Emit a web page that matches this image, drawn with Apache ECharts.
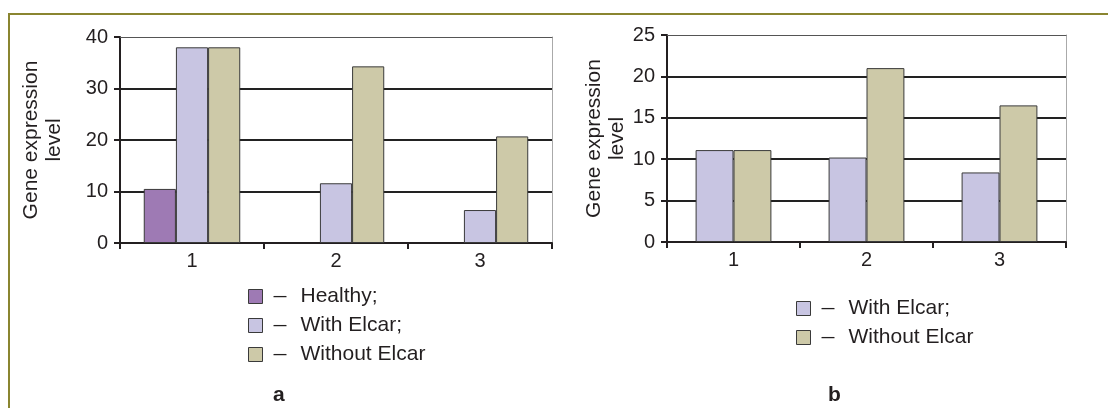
<!DOCTYPE html>
<html>
<head>
<meta charset="utf-8">
<script src="https://cdn.jsdelivr.net/npm/echarts@6/dist/echarts.min.js"></script>
<style>
html,body{margin:0;padding:0;background:#fff;}
#chart{width:1108px;height:408px;}
</style>
</head>
<body>
<div id="chart"></div>
<script>
// ---- data ----
const categories = ['1', '2', '3'];
const aHealthy = [10.5, null, null];
const aWithElcar = [38, 11.6, 6.4];
const aWithoutElcar = [38, 34.3, 20.7];
const bWithElcar = [11.1, 10.2, 8.4];
const bWithoutElcar = [11.1, 21.0, 16.5];
const axisTitle = 'Gene expression\nlevel';
const legendLabels = { aH: 'Healthy;', aW: 'With Elcar;', aWo: 'Without Elcar', bW: 'With Elcar;', bWo: 'Without Elcar' };
const panelLabels = ['a', 'b'];

// ---- styles ----
const FONT = '"Liberation Sans", Arial, sans-serif';
const TXT = '#231f20';
const C_H = '#9e7ab4', C_W = '#c8c5e2', C_WO = '#cdc9a8';
const BORDER = '#3a3a3a';

const chart = echarts.init(document.getElementById('chart'), null, { renderer: 'canvas' });

function xAxisMain(gi) {
  return {
    type: 'category', gridIndex: gi, data: categories, boundaryGap: true,
    axisLine: { lineStyle: { color: TXT, width: 2 } },
    axisTick: { show: true, length: 6, lineStyle: { color: TXT, width: 2 } },
    axisLabel: { color: TXT, fontSize: 20, fontFamily: FONT, margin: 8 },
    splitLine: { show: false }
  };
}
function xAxisTop(gi) {
  return {
    type: 'category', gridIndex: gi, data: categories, position: 'top',
    axisLine: { show: true, onZero: false, lineStyle: { color: '#555', width: 1 } },
    axisTick: { show: false }, axisLabel: { show: false }, splitLine: { show: false }
  };
}
function yAxisMain(gi, max, interval, gap) {
  return {
    type: 'value', gridIndex: gi, min: 0, max: max, interval: interval,
    name: axisTitle, nameLocation: 'middle', nameRotate: 90, nameGap: gap,
    nameTextStyle: { color: TXT, fontSize: 21, fontFamily: FONT, lineHeight: 23, align: 'center' },
    axisLine: { show: true, lineStyle: { color: TXT, width: 2 } },
    axisTick: { show: true, length: 6, lineStyle: { color: TXT, width: 2 } },
    axisLabel: { color: TXT, fontSize: 20, fontFamily: FONT, margin: 12 },
    splitLine: { show: true, showMaxLine: false, lineStyle: { color: '#222', width: 2 } }
  };
}
function yAxisRight(gi, max, interval) {
  return {
    type: 'value', gridIndex: gi, min: 0, max: max, interval: interval, position: 'right',
    axisLine: { show: true, onZero: false, lineStyle: { color: '#aaa', width: 1 } },
    axisTick: { show: false }, axisLabel: { show: false }, splitLine: { show: false }
  };
}
function bar(name, data, color, xi, yi, catGap) {
  return {
    type: 'bar', name: name, data: data, xAxisIndex: xi, yAxisIndex: yi,
    barGap: '0%', barCategoryGap: catGap,
    itemStyle: { color: color, borderColor: BORDER, borderWidth: 1 },
    emphasis: { disabled: true }
  };
}
const legendText = {
  color: TXT, fontSize: 21, fontFamily: FONT, lineHeight: 20,
  rich: {
    d: { fontSize: 13, fontFamily: FONT, fontWeight: 'bold', color: TXT, padding: [0, 14, 0, 6], lineHeight: 20 },
    t: { fontSize: 21, fontFamily: FONT, color: TXT, lineHeight: 20 }
  }
};
function legendFmt(n) { return '{d|—}{t|' + legendLabels[n] + '}'; }

chart.setOption({
  animation: false,
  backgroundColor: '#fff',
  grid: [
    { left: 120, top: 37, width: 432, height: 206 },
    { left: 667, top: 35, width: 399, height: 207 }
  ],
  xAxis: [xAxisMain(0), xAxisMain(1), xAxisTop(0), xAxisTop(1)],
  yAxis: [yAxisMain(0, 40, 10, 54), yAxisMain(1, 25, 5, 38), yAxisRight(0, 40, 10), yAxisRight(1, 25, 5)],
  series: [
    bar('aH', aHealthy, C_H, 0, 0, '33%'),
    bar('aW', aWithElcar, C_W, 0, 0, '33%'),
    bar('aWo', aWithoutElcar, C_WO, 0, 0, '33%'),
    bar('bW', bWithElcar, C_W, 1, 1, '43%'),
    bar('bWo', bWithoutElcar, C_WO, 1, 1, '43%')
  ],
  legend: [
    { data: ['aH', 'aW', 'aWo'], orient: 'vertical', left: 248, top: 286, padding: 0, itemWidth: 14, itemHeight: 14, itemGap: 8,
      icon: 'rect', selectedMode: false, formatter: legendFmt, textStyle: legendText,
      itemStyle: { borderColor: BORDER, borderWidth: 1 } },
    { data: ['bW', 'bWo'], orient: 'vertical', left: 796, top: 298, padding: 0, itemWidth: 14, itemHeight: 14, itemGap: 8,
      icon: 'rect', selectedMode: false, formatter: legendFmt, textStyle: legendText,
      itemStyle: { borderColor: BORDER, borderWidth: 1 } }
  ],
  title: [
    { text: panelLabels[0], left: 268, top: 380, textStyle: { color: TXT, fontSize: 21, fontWeight: 'bold', fontFamily: FONT } },
    { text: panelLabels[1], left: 823, top: 380, textStyle: { color: TXT, fontSize: 21, fontWeight: 'bold', fontFamily: FONT } }
  ],
  graphic: [
    { type: 'line', shape: { x1: 8, y1: 14, x2: 1108, y2: 14 }, style: { stroke: '#8a8530', lineWidth: 2 } },
    { type: 'line', shape: { x1: 9, y1: 13, x2: 9, y2: 408 }, style: { stroke: '#8a8530', lineWidth: 2 } }
  ]
});
</script>
</body>
</html>
